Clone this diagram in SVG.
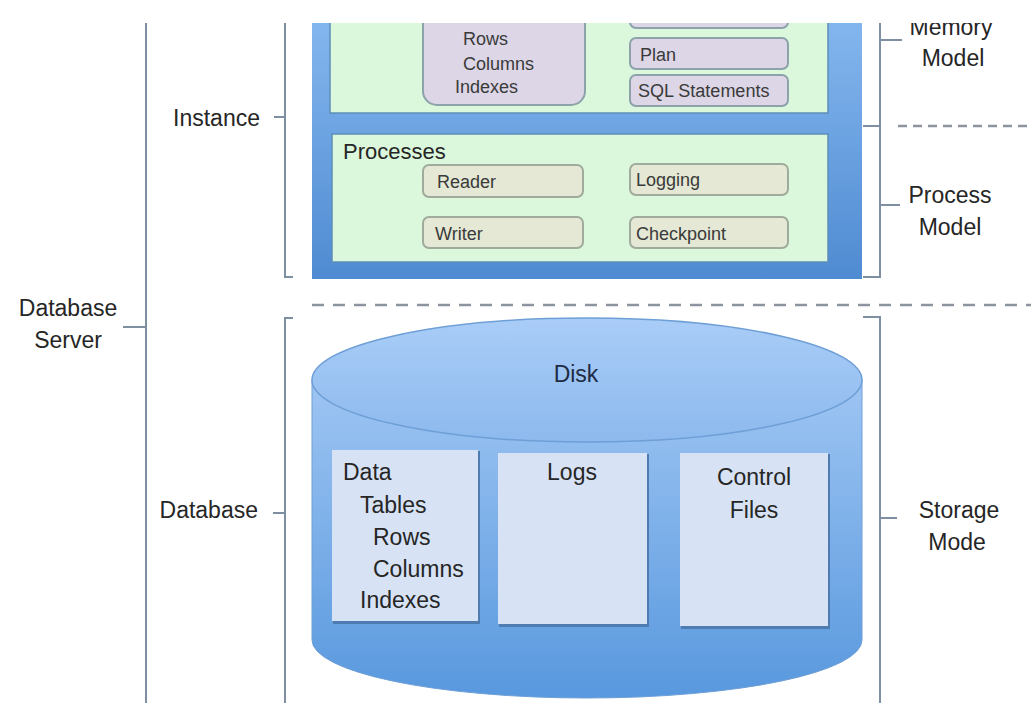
<svg xmlns="http://www.w3.org/2000/svg" width="1031" height="703" viewBox="0 0 1031 703">
<style>
text{font-family:"Liberation Sans",Arial,sans-serif;fill:#262626}
.big{font-size:23px}
.mid{font-size:22px}
.sm{font-size:18px;fill:#3a3a3a}
.br{stroke:#7d8fa0;stroke-width:2;fill:none}
.dash{stroke:#8c959e;stroke-width:2.5;fill:none}
.green{fill:#dbf7dc;stroke:#5d8fb8;stroke-width:1.5}
.purple{fill:#dcd6e6;stroke:#8ea2aa;stroke-width:2}
.proc{fill:#e4e8d4;stroke:#a1ab9c;stroke-width:2}
.file{fill:#d7e3f5}
.fileSh{fill:#4e7bb0}
</style>
<defs>
<clipPath id="crop"><rect x="0" y="23" width="1031" height="680"/></clipPath>
<linearGradient id="blueBox" x1="0" y1="0" x2="0" y2="1">
<stop offset="0" stop-color="#86b8ef"/><stop offset="1" stop-color="#4f8bd2"/>
</linearGradient>
<linearGradient id="cylBody" x1="0" y1="0" x2="0" y2="1">
<stop offset="0" stop-color="#9ec5f3"/><stop offset="1" stop-color="#5898de"/>
</linearGradient>
<linearGradient id="cylTop" x1="0" y1="0" x2="0" y2="1">
<stop offset="0" stop-color="#a9cdf7"/><stop offset="1" stop-color="#8db9ee"/>
</linearGradient>
</defs>
<rect width="1031" height="703" fill="#ffffff"/>
<g clip-path="url(#crop)">
<g id="connectors">
<!-- Database Server bracket -->
<path class="br" d="M146,23 V703 M123,327 H146"/>
<!-- Instance bracket -->
<path class="br" d="M285,23 V277 H293 M274,117 H285"/>
<!-- Database bracket -->
<path class="br" d="M293,318 H285 V703 M273,513 H285"/>
<!-- Memory / Process model brackets -->
<path class="br" d="M880,23 V277 H863 M880,40 H902 M863,126 H880 M880,205 H900"/>
<!-- Storage model bracket -->
<path class="br" d="M863,317 H880 V703 M880,518 H897"/>
<path class="dash" d="M898,126 H1031" stroke-dasharray="9 6"/>
<path class="dash" d="M312,305 H1031" stroke-dasharray="12 9"/>
</g>
<g id="labels">
<text class="big" x="68" y="316" text-anchor="middle">Database</text>
<text class="big" x="68" y="348" text-anchor="middle">Server</text>
<text class="big" x="260" y="126" text-anchor="end">Instance</text>
<text class="big" x="258" y="518" text-anchor="end">Database</text>
<text class="big" x="951" y="35" text-anchor="middle">Memory</text>
<text class="big" x="953" y="66" text-anchor="middle">Model</text>
<text class="big" x="950" y="203" text-anchor="middle">Process</text>
<text class="big" x="950" y="235" text-anchor="middle">Model</text>
<text class="big" x="959" y="518" text-anchor="middle">Storage</text>
<text class="big" x="957" y="550" text-anchor="middle">Mode</text>
</g>
<g id="instance">
<rect x="312" y="10" width="550" height="269" fill="url(#blueBox)"/>
</g>
<g id="memory">
<rect class="green" x="330" y="10" width="498" height="103"/>
<rect class="purple" x="423" y="-10" width="162" height="115" rx="14"/>
<text class="sm" x="463" y="45">Rows</text>
<text class="sm" x="463" y="70">Columns</text>
<text class="sm" x="455" y="93">Indexes</text>
<rect class="purple" x="630" y="-5" width="158" height="33" rx="6"/>
<rect class="purple" x="630" y="38" width="158" height="31" rx="6"/>
<text class="sm" x="640" y="61">Plan</text>
<rect class="purple" x="630" y="75" width="158" height="31" rx="6"/>
<text class="sm" x="638" y="97">SQL Statements</text>
</g>
<g id="processes">
<rect class="green" x="332" y="134" width="496" height="128"/>
<text class="mid" x="343" y="159">Processes</text>
<g id="reader"><rect class="proc" x="423" y="165" width="160" height="32" rx="6"/><text class="sm" x="437" y="188">Reader</text></g>
<g id="writer"><rect class="proc" x="423" y="217" width="160" height="31" rx="6"/><text class="sm" x="435" y="240">Writer</text></g>
<g id="logging"><rect class="proc" x="630" y="164" width="158" height="31" rx="6"/><text class="sm" x="636" y="186">Logging</text></g>
<g id="checkpoint"><rect class="proc" x="630" y="217" width="158" height="31" rx="6"/><text class="sm" x="636" y="240">Checkpoint</text></g>
</g>
<g id="disk">
<path d="M312,380 V640 A275,58 0 0 0 862,640 V380 Z" fill="url(#cylBody)" stroke="#6e9fd6" stroke-width="1"/>
<ellipse cx="587" cy="380" rx="275" ry="62" fill="url(#cylTop)" stroke="#6e9fd6" stroke-width="1.5"/>
<text class="big" x="576" y="382" text-anchor="middle" style="fill:#1f2b44">Disk</text>
</g>
<g id="data">
<rect class="fileSh" x="333" y="451" width="147" height="173"/>
<rect class="file" x="332" y="450" width="146" height="171"/>
<text class="big" x="343" y="480">Data</text>
<text class="big" x="360" y="513">Tables</text>
<text class="big" x="373" y="545">Rows</text>
<text class="big" x="373" y="577">Columns</text>
<text class="big" x="360" y="608">Indexes</text>
</g>
<g id="logs">
<rect class="fileSh" x="499" y="454" width="150" height="173"/>
<rect class="file" x="498" y="453" width="149" height="171"/>
<text class="big" x="572" y="480" text-anchor="middle">Logs</text>
</g>
<g id="control">
<rect class="fileSh" x="681" y="454" width="149" height="175"/>
<rect class="file" x="680" y="453" width="148" height="173"/>
<text class="big" x="754" y="485" text-anchor="middle">Control</text>
<text class="big" x="754" y="518" text-anchor="middle">Files</text>
</g>
</g>
</svg>
